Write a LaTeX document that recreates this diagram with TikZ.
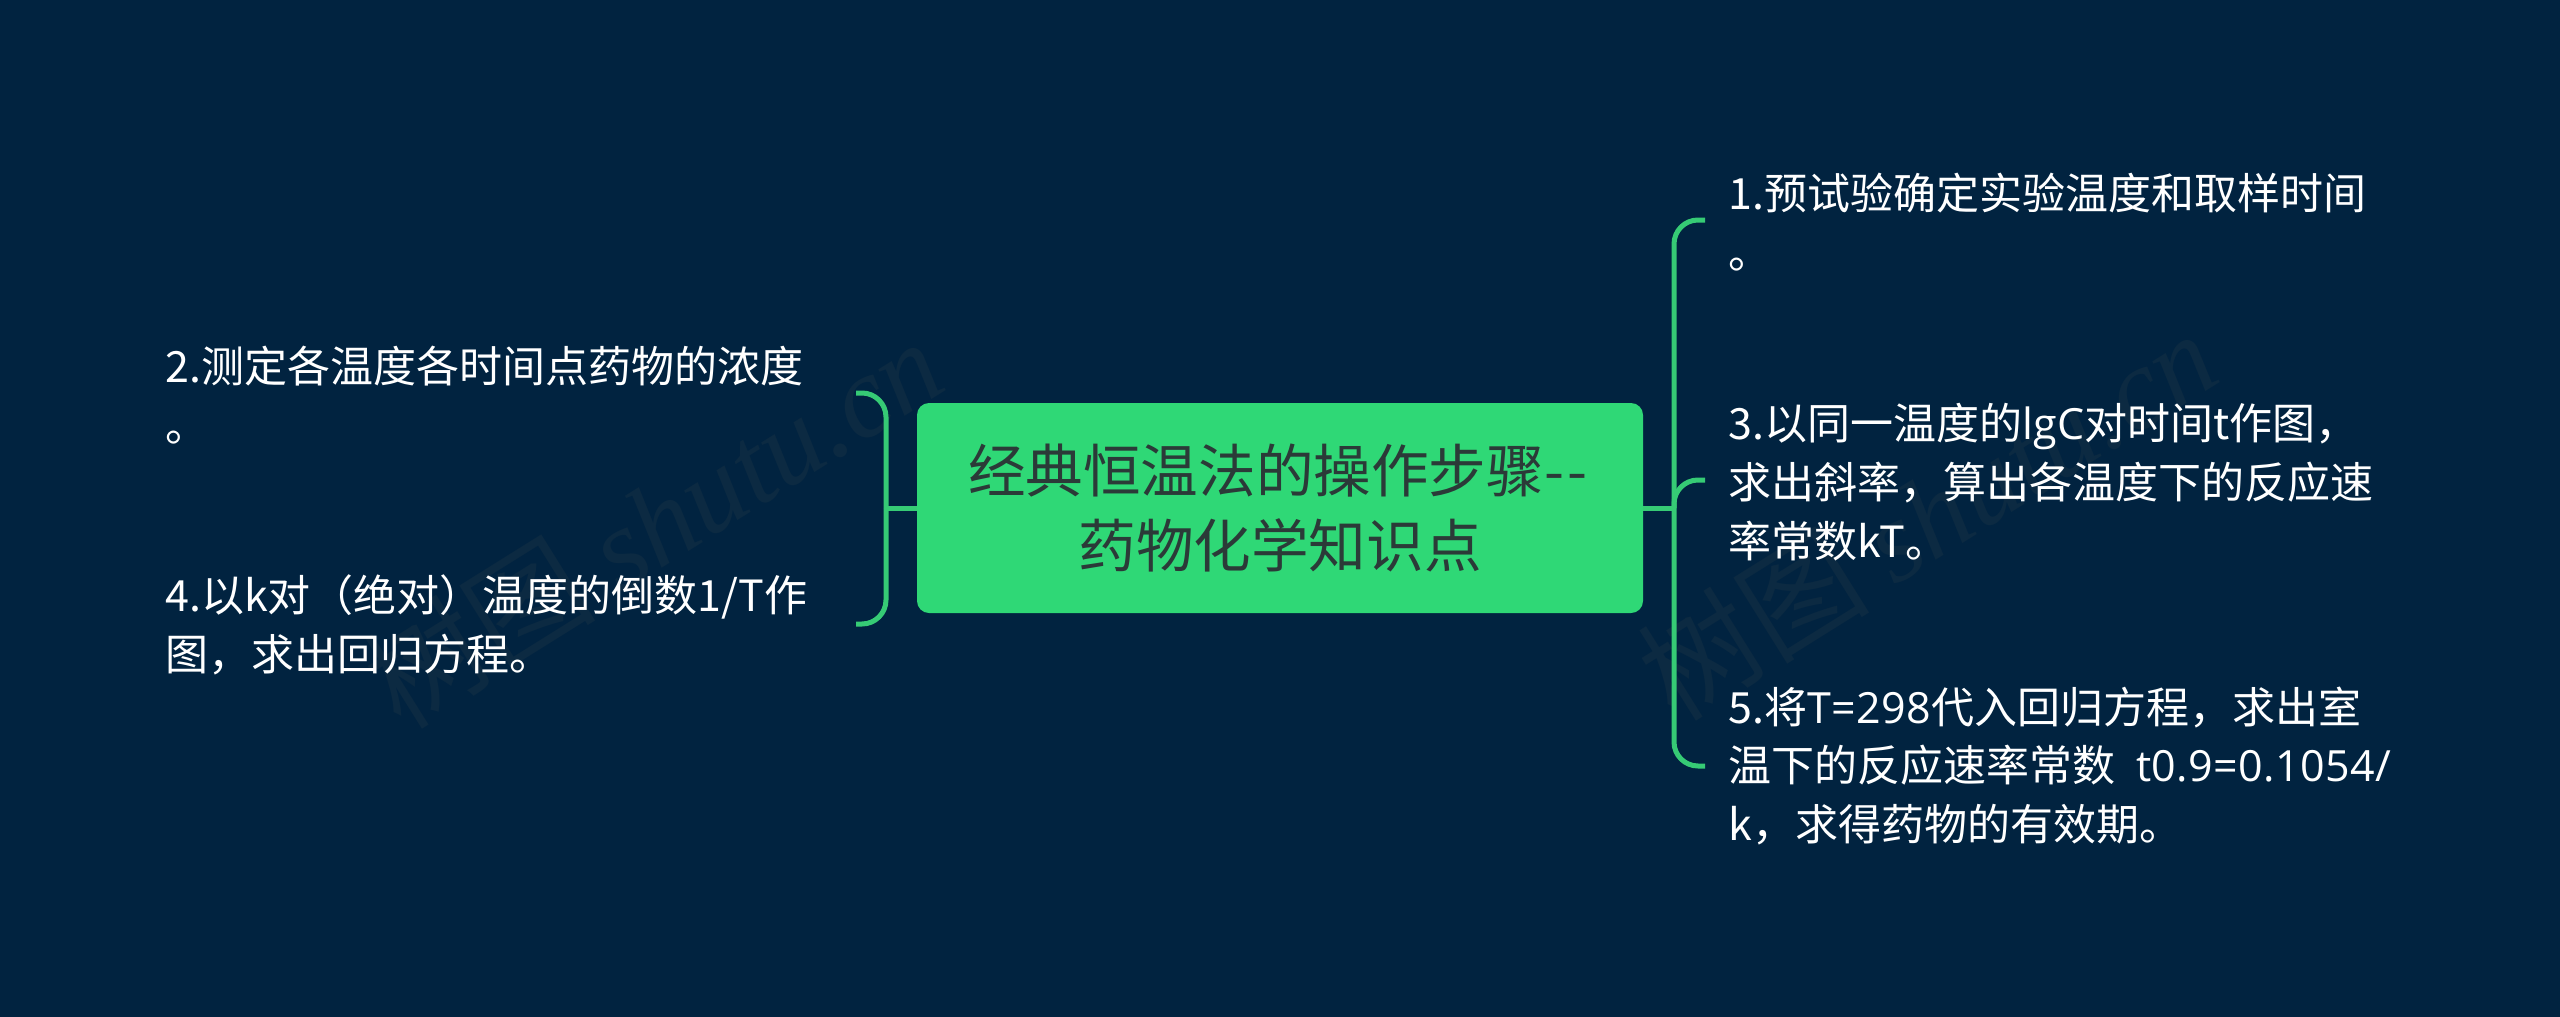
\documentclass[tikz,border=0pt]{standalone}
\usepackage{fontspec}
\setmainfont{Noto Sans CJK SC}
\newfontfamily\markfont{Liberation Serif}
\newfontfamily\latinfont[LetterSpace=1]{Open Sans}
\definecolor{pagebg}{HTML}{012340}
\definecolor{rootgreen}{HTML}{2FD876}
\definecolor{linegreen}{HTML}{36CB75}
\definecolor{rootink}{HTML}{2B3A38}
\definecolor{markink}{HTML}{0C2A42}
\tikzset{
    rootbox/.style={fill=rootgreen,rounded corners=6pt,minimum width=363pt,minimum height=105pt,
        inner sep=0pt,align=center,text=rootink,font=\fontsize{28.8}{37.5}\selectfont},
    itemtext/.style={anchor=west,inner sep=0pt,align=left,text=white,font=\fontsize{21.5}{29.4}\selectfont},
    branch/.style={draw=linegreen,line width=2.5pt},
    markatext/.style={text=markink,rotate=32,inner sep=0pt,font=\fontsize{58}{64}\selectfont\itshape}
}
\begin{document}
\begin{tikzpicture}[x=0.5pt,y=-0.5pt]
        \fill[pagebg] (0,0) rectangle (2560,1017);

        \node[markatext] (markleft) at (653,522) {树图 {\markfont shutu.cn}};
        \node[markatext] (markright) at (1927,514) {树图 {\markfont shutu.cn}};

        \node[rootbox] (root) at (1280,508) {经典恒温法的操作步骤{-}\kern2pt{-}\kern2pt\\药物化学知识点};

        \node[itemtext] (item1) at (1728,222) {1.预试验确定实验温度和取样时间\\。};
        \node[itemtext] (item3) at (1728,482) {3.以同一温度的{\latinfont lgC}对时间t作图，\\求出斜率，算出各温度下的反应速\\率常数kT。};
        \node[itemtext] (item5) at (1728,766) {5.将{\latinfont T=298}代入回归方程，求出室\\温下的反应速率常数 \kern5.5pt{\latinfont t0.9=0.1054/}\\k，求得药物的有效期。};
        \node[itemtext] (item2) at (165,395) {2.测定各温度各时间点药物的浓度\\。};
        \node[itemtext] (item4) at (165,625) {4.以k对（绝对）温度的倒数1/T作\\图，求出回归方程。};

        \coordinate (spineright) at (1674,508);
        \coordinate (spineleft) at (886,508);
        \coordinate (tick1) at (1705,220);
        \coordinate (tick3) at (1705,480);
        \coordinate (tick5) at (1705,766);
        \coordinate (tick2) at (856,393);
        \coordinate (tick4) at (856,624);

        \draw[branch] (root.east) -- (spineright);
        \draw[branch] (root.west) -- (spineleft);
        \draw[branch,rounded corners=12pt] (spineright) |- (tick1);
        \draw[branch,rounded corners=12pt] (spineright) |- (tick3);
        \draw[branch,rounded corners=12pt] (spineright) |- (tick5);
        \draw[branch,rounded corners=12pt] (spineleft) |- (tick2);
        \draw[branch,rounded corners=12pt] (spineleft) |- (tick4);
\end{tikzpicture}
\end{document}
